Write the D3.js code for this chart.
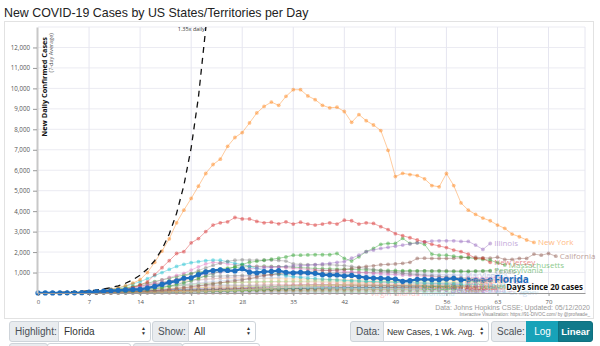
<!DOCTYPE html>
<html><head><meta charset="utf-8">
<script src="https://cdn.jsdelivr.net/npm/d3@7"></script>
<style>
body{margin:0;width:600px;height:346px;overflow:hidden;background:#fff;font-family:"Liberation Sans",Arial,sans-serif;position:relative;}
svg{position:absolute;left:0;top:0}
.c{position:absolute;box-sizing:border-box;border:1px solid #ced4da;font-size:10px;color:#495057;padding:0 5px;white-space:nowrap;display:flex;align-items:center;overflow:hidden;}
.g{background:#e9ecef;}
.w{background:#fff;color:#333;}
.arr{position:absolute;right:4px;top:4px;font-size:5px;line-height:5px;color:#333;text-align:center}
</style></head>
<body>
<div id="chart"></div>
<script>
// ---------- data ----------
const xTicks = [0,7,14,21,28,35,42,49,56,63,70];
const yTicks = [1000,2000,3000,4000,5000,6000,7000,8000,9000,10000,11000,12000];

const newYork = [5,8,12,18,25,35,50,70,100,140,190,260,350,480,650,1000,1500,2050,2650,3430,4050,4620,5220,5840,6280,6540,7170,7600,7840,8310,8800,9120,9330,9170,9610,9935,9935,9630,9450,9170,9050,9080,8870,8340,8720,8420,8210,7940,6975,5690,5850,5790,5740,5580,5250,5190,5840,5250,4400,4050,3840,3660,3530,3320,3160,2880,2750,2590,2470];
const newJersey = [2,3,4,5,7,9,12,16,25,40,60,100,170,260,400,540,900,1240,1580,1930,2020,2450,2660,3000,3320,3430,3480,3690,3620,3620,3500,3430,3460,3380,3480,3370,3460,3370,3320,3370,3430,3370,3560,3530,3370,3430,3400,3240,3100,2900,2800,2700,2590,2500,2380,2300,2220,2100,2020,1900,1690,1690,1500];
const illinois = [2,3,5,8,12,18,25,35,50,70,95,130,170,220,280,340,420,500,580,650,720,800,860,920,970,1020,1060,1100,1150,1180,1200,1230,1250,1280,1300,1320,1330,1350,1380,1420,1450,1500,1530,1700,1850,2020,2100,2180,2230,2290,2340,2400,2450,2500,2540,2550,2550,2550,2520,2520,2340,2130,2420];
const massachusetts = [2,3,5,7,10,14,19,25,33,45,60,75,90,100,120,160,210,260,330,420,500,600,700,850,950,1050,1150,1300,1400,1500,1550,1600,1650,1700,1760,1850,1850,1860,1870,1870,1870,1930,1690,1560,1770,2020,2180,2380,2420,2420,2670,2420,2450,2380,1900,1850,1850,1800,1770,1720,1680,1640,1600,1480,1370];
const california = [3,4,6,8,10,12,15,18,22,27,33,40,50,62,80,100,125,150,180,220,260,300,350,400,450,500,560,600,640,700,780,850,900,950,980,1000,1020,1050,1080,1100,1100,1120,1150,1200,1250,1300,1330,1380,1400,1420,1450,1500,1690,1700,1690,1690,1690,1700,1720,1750,1750,1720,1700,1750,1640,1640,1690,1690,1900,1850,1930,1800];
const michigan = [2,3,5,8,12,18,26,36,50,68,90,115,140,170,200,260,340,440,550,670,800,950,1100,1230,1350,1460,1550,1600,1620,1610,1610,1600,1610,1590,1560,1420,1400,1390,1380,1370,1380,1360,1340,1300,1250,1200,1150,1100,1050,1000,960,930,900,870,840,810,790,770,750,720,700,680,660];
const louisiana = [3,5,8,12,18,26,36,50,80,120,170,240,330,440,550,700,850,1000,1150,1300,1400,1480,1530,1580,1610,1600,1530,1450,1400,1300,1200,1100,1000,920,850,800,760,720,700,680,660,640,620,600,590,570,560,540,530,520,510,500,490,480,470,460,450,440,430,420,410,400];
const connecticut = [2,3,5,8,12,18,25,35,50,70,100,140,190,250,330,420,520,640,760,860,960,1120,1280,1420,1500,1470,1420,1380,1350,1320,1300,1290,1280,1260,1240,1200,1180,1160,1140,1120,1100,1080,1060,1040,1010,990,960,940,920,900,880,860,840,820,800,780,760,740,720];
const pennsylvania = [2,3,5,8,12,20,30,45,70,100,140,190,250,320,400,480,560,640,720,800,880,950,1020,1080,1130,1180,1220,1250,1270,1290,1300,1310,1300,1290,1280,1260,1240,1220,1200,1190,1180,1170,1160,1150,1140,1130,1120,1110,1100,1100,1090,1090,1080,1080,1070,1070,1060,1060,1050,1050,1070,1080,1090];
const texas = [2,3,5,8,12,20,30,45,65,90,130,170,220,280,340,400,460,520,580,640,700,740,780,800,820,830,840,850,860,870,880,890,900,910,920,930,940,950,960,970,980,990,1000,1000,1010,1010,1020,1030,1030,1040,1050,1060,1070,1080,1080,1090,1090,1080,1080,1070,1070,1070,1070];
const virginia = [2,3,4,6,9,13,18,25,35,48,65,85,110,140,170,210,250,290,330,370,410,450,490,530,560,590,620,650,670,690,710,730,750,760,780,790,800,810,820,830,840,850,860,860,870,870,880,880,880,890,890,890,890,890,880,880,880,880,880,880,880];
const maryland = [2,3,5,8,12,18,25,35,50,70,95,120,150,190,230,280,330,380,430,480,530,580,620,660,700,730,760,780,800,820,840,850,870,880,890,900,910,920,930,940,950,960,960,970,970,980,980,980,970,970,960,950,940,930,920,900,890,880,870];
const georgia = [3,5,8,12,18,28,40,60,85,110,150,190,240,290,340,390,430,470,520,560,600,640,660,680,700,710,720,730,730,720,720,710,700,700,690,690,680,680,670,670,660,660,650,650,640,650,640,640,630,630,620,620,620,610,610,600,600,600,590,590,580];
const ohio = [2,3,5,8,12,17,24,32,45,60,80,100,130,160,190,220,260,300,330,360,390,420,440,460,480,500,510,520,530,540,550,560,560,570,570,580,580,580,590,590,590,590,580,580,580,570,570,570,560,560,560,550,550,540,540,530,530,520,520];
const indiana = [2,3,5,8,12,17,24,32,45,60,80,100,130,160,200,240,280,320,360,390,420,450,470,490,500,510,520,520,530,530,530,530,540,540,540,540,540,540,540,530,530,530,530,520,520,520,510,510,510,500,500,490,490,490,480,480,470,470,460];
const colorado = [3,5,8,12,18,25,35,50,70,90,110,140,170,200,230,260,290,310,330,340,350,360,360,370,370,380,380,380,380,380,390,390,390,390,390,400,400,400,400,400,400,400,400,390,390,390,380,380,370,370,360,360,350,350,340,340,330,330,320,320,310,310];
const washington = [3,5,8,12,18,25,35,50,70,95,120,150,180,210,240,270,300,330,350,370,380,390,400,400,400,400,390,380,370,360,350,340,330,320,310,300,290,280,270,260,250,240,240,230,230,220,220,210,210,200,200,200,190,190,190,180,180,180,170,170,170,160,160];
const minnesota = [1,2,3,4,5,6,8,10,13,16,20,24,28,33,38,43,48,54,60,66,72,80,88,96,105,115,125,140,155,170,190,210,230,250,270,290,310,330,350,370,390,410,430,450,470,490,510,530,550,570,590,600,610,620,630,640,640,650,650];
const northCarolina = [2,3,4,6,9,13,18,25,35,48,65,85,100,120,140,160,180,200,220,240,260,280,300,310,320,330,340,350,360,370,380,390,400,400,410,410,420,420,430,430,440,440,440,450,450,460,460,460,470,470,470,480,480,480,490,490,490,500,500,500,500];
const tennessee = [3,5,8,12,18,25,35,50,70,90,110,130,150,170,190,200,210,220,230,240,250,260,270,280,290,300,300,310,310,320,320,330,330,330,340,340,350,350,360,360,370,370,380,380,380,390,390,390,400,400,400,400,400,390,390,380,380,370,360,350,340];
const arizona = [2,3,4,6,8,11,15,20,27,35,45,58,72,88,105,120,135,150,165,180,195,210,220,230,240,250,255,260,265,270,275,280,285,290,295,300,305,310,315,320,325,330,335,340,345,350,355,360,365,370,375,380,385,390,395,400,405,410,415];
const iowa = [1,2,3,4,5,7,9,12,15,19,24,30,36,43,50,58,66,75,85,95,105,115,130,145,160,175,190,210,230,250,270,290,310,330,350,370,390,400,410,410,410,410,400,400,390,390,380,380,370,370,360,360,350,350,340,340,330];
const wisconsin = [2,3,4,6,8,11,15,20,27,35,45,58,72,88,105,120,135,150,160,170,175,180,180,180,180,180,180,185,190,195,200,205,210,215,220,225,230,235,240,245,250,255,260,265,270,275,280,285,290,295,300,305,310,315,320,325,330,330,330,330,330];
const alabama = [2,3,5,7,10,14,19,25,33,42,52,63,75,88,100,110,120,130,140,150,160,165,170,175,180,185,190,195,200,200,200,200,200,205,210,215,220,225,230,235,240,245,250,255,260,265,270,275,280,285,290,295,300,300,300,300,300,300,300];
const rhodeIsland = [1,1,2,2,3,4,5,6,8,10,13,16,20,25,30,36,43,50,58,67,77,88,100,112,125,140,155,170,185,200,215,230,240,250,260,270,280,290,300,300,300,300,300,290,290,280,280,270,270,260,260,250,240,230,220,210,200,190,180];
const nebraska = [1,1,2,2,3,3,4,5,6,7,8,10,12,14,17,20,24,28,33,38,44,50,57,65,74,84,95,107,120,134,149,165,180,195,210,220,230,240,250,255,260,265,270,275,280,285,290,290,290,290,290,290,290];
const mississippi = [2,3,5,7,10,14,19,25,32,40,50,60,70,80,90,100,110,120,130,140,150,160,170,180,190,200,205,210,215,220,225,230,230,230,230,235,240,240,240,240,245,250,250,250,250,250,250,250,255,260,260,260,260,260,260,260,260,260,260,260,260];
const kentucky = [1,2,3,4,6,8,10,13,16,20,25,30,36,42,50,58,66,75,85,95,105,115,125,135,145,150,155,160,165,170,175,180,180,185,185,190,190,195,195,200,200,200,205,205,210,210,210,215,215,215,220,220,220,220,225,225,225,225,225];
const utah = [2,3,5,7,10,14,19,25,32,40,50,60,70,80,88,95,100,105,110,112,115,118,120,120,122,124,125,126,128,130,132,134,136,138,140,142,144,146,148,150,152,154,156,158,160,162,164,165,166,167,168,168,168,168,168,168,168,168,168];
const delaware = [1,1,2,2,3,4,5,6,8,10,12,15,18,22,26,30,35,40,46,52,58,64,70,76,82,88,94,100,106,110,114,118,122,126,130,134,138,142,146,150,152,154,156,158,160,158,156,154,152,150,148,146,144,142,140,138,136];
const newMexico = [1,1,1,2,2,3,3,4,5,6,7,8,10,12,14,16,18,21,24,27,30,33,36,40,44,48,52,56,60,64,68,72,76,80,84,88,92,96,100,104,108,112,116,120,124,128,132,136,138,140,142,144,146,148,150,150,150];
const oklahoma = [1,2,3,4,6,8,10,13,16,20,25,30,35,40,45,50,55,60,65,70,74,78,80,82,84,85,86,86,86,85,84,84,83,82,82,81,80,80,80,80,80,80,80,80,80,80,80,80,80,80,80,80,80,80,80,80];
const oregon = [1,2,2,3,4,5,6,8,10,12,15,18,22,26,30,34,38,42,46,50,52,54,56,58,58,58,58,56,54,52,50,50,48,48,46,46,46,45,45,45,45,45,45,45,45,45,45,45,45,45,45,45,45,45,45,45,45,45,45,45,45,45,45,45,45];
const virginIslands = [1,1,1,2,2,2,2,3,3,3,3,3,3,2,2,2,2,2,2,1,1,1,1,1,1,1,1,1,1,1,1,1,1,0,0,0,0,0,0,0,0,0,0,0,0,0];
const montana = [2,3,4,6,8,10,12,14,15,16,16,15,14,13,12,11,10,9,8,7,6,5,5,4,4,3,3,3,2,2,2,2,1,1,1,1,1,1,1,1,1,1,1,1,1,1,1,1,1,1,1,1,1];

const stateNames = ["Montana","Virgin Islands","Oregon","Oklahoma","New Mexico","Delaware","Utah","Kentucky","Mississippi","Nebraska","Rhode Island","Alabama","Wisconsin","Iowa","Arizona","Tennessee","North Carolina","Minnesota","Washington","Colorado","Indiana","Ohio","Georgia","Maryland","Virginia","Texas","Pennsylvania","Connecticut","Louisiana","Michigan","California","Massachusetts","Illinois","New Jersey","New York"];
const stateColors = ["#9edae5","#ff9896","#aec7e8","#98df8a","#c5b0d5","#9467bd","#bcbd22","#7f7f7f","#ff7f0e","#2ca02c","#e377c2","#d62728","#17becf","#8c564b","#9467bd","#bcbd22","#f7b6d2","#dbdb8d","#9edae5","#c49c94","#ff9896","#98df8a","#ffbb78","#c5b0d5","#aec7e8","#7f7f7f","#2ca02c","#e377c2","#17becf","#7f7f7f","#8c564b","#2ca02c","#9467bd","#d62728","#ff7f0e"];
const stateValues = [montana,virginIslands,oregon,oklahoma,newMexico,delaware,utah,kentucky,mississippi,nebraska,rhodeIsland,alabama,wisconsin,iowa,arizona,tennessee,northCarolina,minnesota,washington,colorado,indiana,ohio,georgia,maryland,virginia,texas,pennsylvania,connecticut,louisiana,michigan,california,massachusetts,illinois,newJersey,newYork];

const highlightName = "Florida";
const florida = [3,4,5,6,8,10,14,50,70,90,110,130,150,170,175,240,320,420,520,580,720,740,900,1030,1100,1130,1100,1080,1190,1020,990,1040,1060,1090,1010,990,1010,990,960,895,880,880,830,860,795,750,730,715,700,680,570,600,670,670,650,650,680,715,640,640,620,600,640];

// 1.35x daily reference curve values (days 0..24)
const guideValues = [13,17.6,23.7,32,43.2,58.3,78.7,106.2,143.4,193.6,261.4,352.9,476.4,643.1,868.2,1172,1582,2136,2884,3893,5256,7096,9579,12932,17458];

// ---------- drawing ----------
const W=600,H=346;
const svg=d3.select("#chart").append("svg").attr("width",W).attr("height",H);
const x=d3.scaleLinear().domain([0,75]).range([38,585]);
const y=d3.scaleLinear().domain([0,13000]).range([293,27]);
const tickFont='"Open Sans",sans-serif';

// title
svg.append("text").attr("x",4).attr("y",16.5).attr("font-family",'"Liberation Sans",Arial,sans-serif')
  .attr("font-size",12.4).attr("fill","#222").text("New COVID-19 Cases by US States/Territories per Day");

// panel
svg.append("rect").attr("x",4.5).attr("y",21.5).attr("width",589).attr("height",297)
  .attr("fill","none").attr("stroke","#e2e2e2");

// grid
const g=svg.append("g");
g.selectAll(".hg").data(yTicks.concat([13000])).join("line")
  .attr("x1",x(0)).attr("x2",x(75)).attr("y1",d=>y(d)).attr("y2",d=>y(d))
  .attr("stroke","#ebebf2").attr("stroke-width",1);
g.selectAll(".vg").data(xTicks.slice(1).concat([75])).join("line")
  .attr("x1",d=>x(d)).attr("x2",d=>x(d)).attr("y1",y(13000)).attr("y2",y(0))
  .attr("stroke","#e6e6f0").attr("stroke-width",1);

svg.append("defs").append("clipPath").attr("id","clip").append("rect")
  .attr("x",x(0)-4).attr("y",y(13000)).attr("width",x(75)-x(0)+8).attr("height",y(0)-y(13000)+4);

const plot=svg.append("g").attr("clip-path","url(#clip)");
const line=d3.line().x((d,i)=>x(i)).y(d=>y(d));

// background series
stateValues.forEach((vals,k)=>{
  const col=stateColors[k];
  const sg=plot.append("g");
  sg.append("path").datum(vals).attr("d",line).attr("fill","none")
    .attr("stroke",col).attr("stroke-width",1).attr("opacity",0.4);
  sg.selectAll("circle").data(vals).join("circle")
    .attr("cx",(d,i)=>x(i)).attr("cy",d=>y(d)).attr("r",1.9)
    .attr("fill",col).attr("opacity",0.45);
});
// background labels
stateValues.forEach((vals,k)=>{
  const n=vals.length-1;
  svg.append("text").attr("x",x(n)+4).attr("y",y(vals[n])).attr("dy","0.35em")
    .attr("font-family",tickFont).attr("font-size",8).attr("fill",stateColors[k])
    .attr("opacity",0.55).text(stateNames[k]);
});

// guide curve
plot.append("path").datum(guideValues).attr("d",line).attr("fill","none")
  .attr("stroke","#111").attr("stroke-width",1.3).attr("stroke-dasharray","6,5");
svg.append("text").attr("x",x(Math.log(13000/guideValues[0])/Math.log(1.35))-1).attr("y",31)
  .attr("text-anchor","end").attr("font-family",tickFont).attr("font-size",5.5).attr("fill","#333").text("1.35x daily");

// highlighted series
const hc="#1f6fbf";
plot.append("path").datum(florida).attr("d",line).attr("fill","none").attr("stroke",hc).attr("stroke-width",2.3);
plot.selectAll(".fd").data(florida).join("circle").attr("cx",(d,i)=>x(i)).attr("cy",d=>y(d)).attr("r",2.6).attr("fill",hc);
const fn=florida.length-1;
svg.append("text").attr("x",x(fn)+4).attr("y",y(florida[fn])).attr("dy","0.35em")
  .attr("font-family",tickFont).attr("font-weight","bold").attr("font-size",10).attr("fill",hc).text(highlightName);

// axis x
const xa=svg.append("g").attr("transform",`translate(0,${y(0)})`)
  .call(d3.axisBottom(x).tickValues(xTicks).tickSize(3).tickSizeOuter(0));
xa.select(".domain").attr("stroke","#999");
xa.selectAll(".tick line").attr("stroke","#999");
xa.selectAll("text").attr("font-family",tickFont).attr("font-size",6).attr("fill","#555").attr("dy","0.75em");

// axis y
const ya=svg.append("g").attr("transform",`translate(${x(0)-1},0)`)
  .call(d3.axisLeft(y).tickValues(yTicks).tickSize(4).tickSizeOuter(0).tickFormat(d3.format(",")));
ya.select(".domain").attr("stroke","#c8c8c8").attr("stroke-width",2);
ya.selectAll(".tick line").attr("stroke","#999");
ya.selectAll("text").attr("font-family",tickFont).attr("font-size",6.2).attr("fill","#555");

// y title
svg.append("text").attr("transform",`translate(46.5,37) rotate(-90)`).attr("text-anchor","end")
  .attr("font-family",tickFont).attr("font-weight","bold").attr("font-size",7.3).attr("fill","#111").text("New Daily Confirmed Cases");
svg.append("text").attr("transform",`translate(53,33) rotate(-90)`).attr("text-anchor","end")
  .attr("font-family",tickFont).attr("font-size",5.5).attr("fill","#555").text("(7-day Average)");

// x title
svg.append("text").attr("x",583).attr("y",290).attr("text-anchor","end")
  .attr("font-family",tickFont).attr("font-weight","bold").attr("font-size",8).attr("fill","#111")
  .attr("stroke","#fff").attr("stroke-width",2.5).attr("paint-order","stroke").text("Days since 20 cases");

// credits
svg.append("text").attr("x",590).attr("y",310).attr("text-anchor","end").attr("font-family",'"Liberation Sans",Arial,sans-serif')
  .attr("font-size",7).attr("fill","#9a9a9a").text("Data: Johns Hopkins CSSE; Updated: 05/12/2020");
svg.append("text").attr("x",590).attr("y",316).attr("text-anchor","end").attr("font-family",'"Liberation Sans",Arial,sans-serif')
  .attr("font-size",4.6).attr("fill","#888").text("Interactive Visualization: https://91-DIVOC.com/ by @profwade_");

// ---------- controls ----------
const controls=[
  {l:9,w:50,cls:"g",t:"Highlight:",r:"3px 0 0 3px"},
  {l:58,w:93,cls:"w",t:"Florida",arr:1,r:"0 3px 3px 0"},
  {l:152,w:37,cls:"g",t:"Show:",r:"3px 0 0 3px"},
  {l:188,w:68,cls:"w",t:"All",arr:1,r:"0 3px 3px 0"},
  {l:350,w:34,cls:"g",t:"Data:",r:"3px 0 0 3px"},
  {l:383,w:106,cls:"w",t:"New Cases, 1 Wk. Avg.",arr:1,r:"0 3px 3px 0",fs:"8.6px"},
  {l:491,w:36,cls:"g",t:"Scale:",r:"3px 0 0 3px"}
];
const body=d3.select("body");
controls.forEach(c=>{
  const d=body.append("div").attr("class","c "+c.cls)
    .style("left",c.l+"px").style("top","321px").style("width",c.w+"px").style("height","21px")
    .style("border-radius",c.r).text(c.t);
  if(c.fs) d.style("font-size",c.fs).style("padding","0 3px").style("letter-spacing","-0.1px");
  if(c.arr) d.append("div").attr("class","arr").html("&#9650;<br>&#9660;");
});
body.append("div").attr("class","c").style("left","526px").style("top","321px").style("width","33px").style("height","21px")
  .style("background","#17a2b8").style("border-color","#17a2b8").style("color","#fff").style("justify-content","center").text("Log");
body.append("div").attr("class","c").style("left","558px").style("top","321px").style("width","35px").style("height","21px")
  .style("background","#117a8b").style("border-color","#10707f").style("color","#fff").style("border-radius","0 3px 3px 0")
  .style("justify-content","center").style("font-weight","bold").style("font-size","9.5px").style("padding","0 2px").text("Linear");
[[9,39,"g"],[47,84,"w"],[133,50,"g"],[182,78,"w"]].forEach(b=>{
  body.append("div").attr("class","c "+b[2]).style("left",b[0]+"px").style("top","343px").style("width",b[1]+"px").style("height","21px").style("border-radius","3px");
});
</script>
</body></html>
